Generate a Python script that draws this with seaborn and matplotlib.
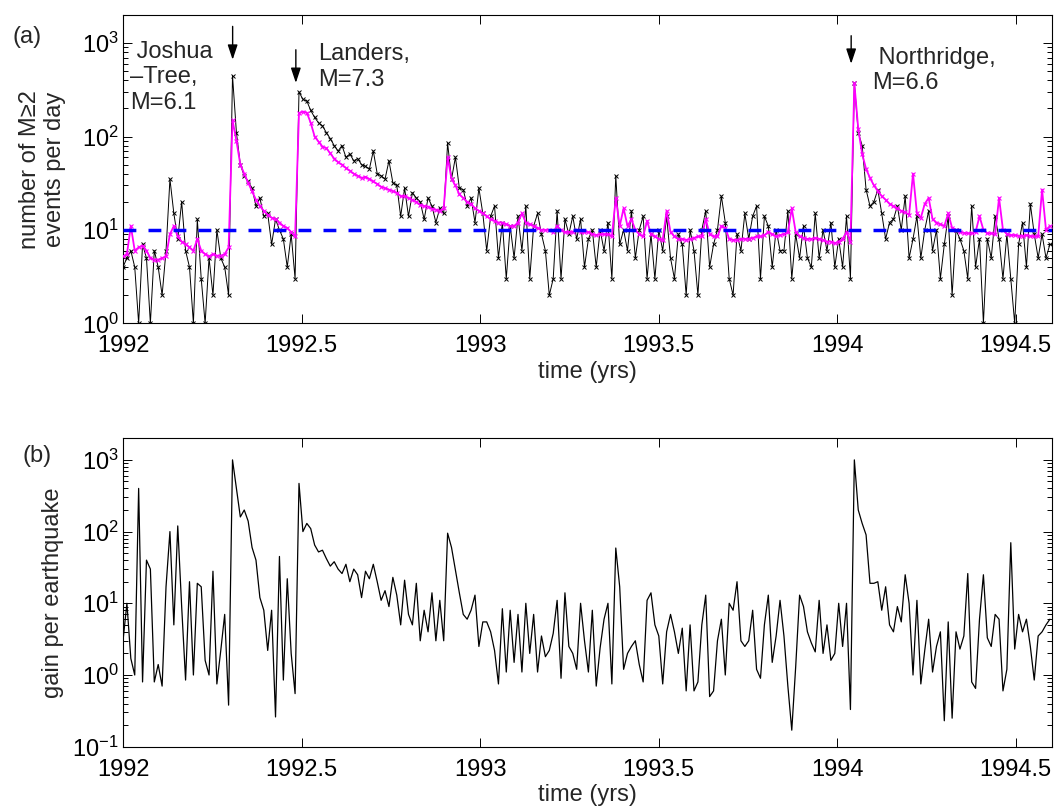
import numpy as np
import pandas as pd
import matplotlib
matplotlib.use("Agg")
import matplotlib.pyplot as plt
import seaborn as sns
from matplotlib.ticker import FixedLocator, FuncFormatter, LogLocator, LogFormatterSciNotation, NullFormatter

# ---------------- data ----------------
START_YEAR = 1992
DAY_STEP = 4  # one sample every 4 days

observed_counts = [
    4, 5, 6, 4, 1, 7, 5, 1, 6, 4, 2, 6, 35, 15, 8, 20, 6, 4, 1, 13, 3, 1, 5, 2, 10, 5, 4, 2,
    450, 110, 50, 38, 33, 28, 18, 22, 14, 15, 7, 13, 10, 8, 4, 9, 3,
    300, 250, 240, 190, 160, 140, 130, 110, 95, 80, 70, 80, 60, 65, 55, 58, 50, 48, 45, 70,
    40, 38, 35, 55, 32, 30, 14, 28, 14, 25, 22, 20, 13, 22, 18,
    12, 17, 15, 85, 35, 60, 28, 27, 18, 22, 12, 28, 15, 6, 14, 18, 5, 12, 3, 11,
    5, 14, 6, 18, 3, 11, 15, 9, 6, 2, 3, 16, 3, 13, 9, 14, 8, 13, 4, 8,
    10, 4, 10, 6, 12, 3, 38, 7, 10, 6, 16, 5, 10, 14, 3, 9, 3, 10, 6, 14,
    5, 3, 9, 7, 2, 10, 6, 2, 10, 16, 4, 7, 10, 23, 12, 3, 2, 9, 6, 15,
    8, 14, 18, 3, 14, 11, 4, 10, 6, 6, 16, 3, 9, 5, 11, 5, 4, 15, 5, 10, 6, 12, 4, 8, 4, 14, 3,
    370,
    110, 80, 27, 18, 20, 27, 15, 8, 12, 13, 18, 10,
    23, 5, 8, 14, 5, 10, 16, 6, 10, 3, 7, 14, 2, 10, 8, 6, 3, 18, 4, 8,
    1, 8, 5, 14, 8, 3, 9, 3, 1, 7, 12, 4, 19, 9, 5, 9, 5, 7,
]

forecast_rate = [
    5.2, 5.5, 11, 6, 6.5, 6.8, 6, 5, 4.8, 4.8, 5, 5.2, 9, 11, 8.5, 7.5, 7, 6.5, 6, 8,
    6, 5.5, 5.2, 5.5, 5.3, 5.3, 5.5, 6.5,
    150, 90, 50, 40, 32, 26, 21, 18, 16, 14.5, 13.5, 13, 12, 11, 10.5, 9.5, 8.5,
    178, 185, 180, 140, 100, 88, 78, 75, 66, 58, 53, 50, 46, 43, 40, 38, 36, 37, 35, 33,
    31, 29, 28, 27, 26, 25, 23, 23, 22, 21, 20, 18.5, 18, 17.8, 16.8,
    16.5, 16, 17, 60, 35, 30, 24, 22, 20, 19, 17, 16, 15, 14, 13, 12.5, 12, 12, 11.5, 11,
    11, 12, 15, 12, 11.5, 11, 10.5, 10, 10, 10, 9.5, 11, 10, 9.5, 9.5, 9.5, 10, 9.5, 9.5, 9.5,
    9, 8.8, 9, 9, 9, 8.5, 22, 11, 17, 11, 13, 10, 9, 8.5, 12.5, 9, 8.5, 8, 7.8, 16,
    9.5, 8.5, 8, 8, 7.8, 8, 8.2, 8.5, 8.5, 13, 9, 8.5, 8.5, 11, 10.5, 8, 7.8, 7.8, 8, 8,
    8, 8.2, 8.5, 8.5, 8.8, 9.5, 9, 8.5, 8.8, 9, 9.5, 17, 9.5, 8.5, 8.2, 8, 8, 8.2, 8, 7.8,
    7.5, 7.5, 7.2, 7.5, 8, 9.5, 7.5,
    370,
    120, 65, 45, 36, 30, 26, 23, 21, 19, 18, 17, 16,
    15.5, 14.5, 40, 15, 13.5, 19, 22, 13, 12, 11.5, 11, 15, 10.5, 10, 9.5, 9.3, 9.2, 9.2, 9.5, 14,
    10, 9.2, 9.2, 9, 22, 10, 9, 8.8, 8.8, 8.6, 8.6, 8.8, 8.6, 8.5, 8.5, 27, 10, 11,
]

gain = [
    3, 10, 1.7, 1, 400, 0.8, 40, 30, 0.8, 1.4, 0.7, 17, 100, 5, 120, 9, 0.85, 20, 1, 19,
    17, 1.6, 1, 28, 0.75, 2.2, 7, 0.38,
    1000, 400, 160, 200, 140, 60, 40, 12, 8, 2.2, 8, 0.26, 45, 0.85, 22, 2, 0.55,
    470, 100, 130, 110, 65, 52, 55, 42, 33, 38, 30, 26, 35, 20, 30, 25, 12, 28, 22, 35,
    20, 11, 15, 9, 23, 13, 5, 21, 7, 5, 19, 3, 8, 4, 14,
    3, 11, 3, 95, 60, 29, 14, 7, 6, 8, 13, 2.5, 5.5, 5.5, 4, 2.2, 0.75, 8.4, 1.1, 8,
    1.5, 7, 1.1, 10, 2, 7, 1.1, 3.5, 1.8, 2.2, 3.8, 11, 0.9, 14, 2.5, 2, 1.2, 10, 3, 1.1,
    8, 0.7, 2.4, 6, 10, 0.75, 59, 17, 1.2, 2, 2.5, 3, 1.4, 0.8, 11, 14, 5, 3.5, 0.75, 4,
    7, 4, 2, 4.5, 0.6, 5, 0.6, 0.8, 5, 13, 0.5, 0.6, 3, 6, 1, 10, 8, 20, 3, 2.5,
    3, 8, 1.2, 0.9, 5, 13, 1.5, 3.5, 11, 3.5, 0.7, 0.17, 1.3, 13, 9, 4, 2.8, 2.1, 11, 2,
    5, 1.6, 2, 10, 2.5, 10, 0.33,
    1000,
    200, 130, 90, 19, 19, 20, 8, 17, 5, 4, 9, 5.5,
    25, 10, 1, 11, 0.75, 2.2, 6, 1.1, 2.5, 4, 0.23, 5.5, 0.25, 4, 2.3, 3.5, 26, 0.8, 0.65, 6,
    25, 3.3, 2.5, 7, 6, 0.6, 1.2, 70, 2.3, 7, 4, 6, 2.5, 0.85, 3.5, 4, 5, 6,
]

background_rate = 10
xtick_values = [1992, 1992.5, 1993, 1993.5, 1994, 1994.5]
xtick_labels = ["1992", "1992.5", "1993", "1993.5", "1994", "1994.5"]
event_labels = [" Joshua\n\u2013Tree,\nM=6.1", "Landers,\nM=7.3", " Northridge,\nM=6.6"]
event_years = [1992.307, 1992.484, 1994.039]

# ---------------- build frame ----------------
n = len(observed_counts)
years = START_YEAR + np.arange(n) * DAY_STEP / 365.25
df = pd.DataFrame({"year": years, "observed": observed_counts,
                   "forecast": forecast_rate, "gain": gain})

# ---------------- style ----------------
sns.set_style("ticks", {"xtick.direction": "in", "ytick.direction": "in"})
plt.rcParams["font.family"] = ["Liberation Sans", "DejaVu Sans"]
plt.rcParams["mathtext.fontset"] = "custom"
plt.rcParams["mathtext.rm"] = "Liberation Sans"
plt.rcParams["mathtext.it"] = "Liberation Sans:italic"
plt.rcParams["mathtext.bf"] = "Liberation Sans:bold"
plt.rcParams["mathtext.default"] = "regular"
FS = 17

fig = plt.figure(figsize=(10.55, 8.07), dpi=100)
ax1 = fig.add_axes([0.11659, 0.59938, 0.8801, 0.38203])
ax2 = fig.add_axes([0.11659, 0.07472, 0.8801, 0.38216])

# panel (a)
sns.lineplot(data=df, x="year", y="observed", ax=ax1, color="black", linewidth=0.7,
             marker="x", markersize=3.5, markeredgecolor="black", markeredgewidth=0.7,
             zorder=2)
sns.lineplot(data=df, x="year", y="forecast", ax=ax1, color="#ff00ff", linewidth=1.3,
             marker="x", markersize=3, markeredgecolor="#ff00ff", markeredgewidth=0.8,
             zorder=3)
ax1.axhline(background_rate, color="#0000ff", linewidth=2.5, linestyle=(0, (3.7, 3.5)), zorder=4)

# panel (b)
sns.lineplot(data=df, x="year", y="gain", ax=ax2, color="black", linewidth=0.9)

for ax, ylo in ((ax1, 1), (ax2, 0.1)):
    ax.set_yscale("log")
    ax.set_xlim(1992, 1994.6)
    ax.set_ylim(ylo, 2000)
    ax.xaxis.set_major_locator(FixedLocator(xtick_values))
    ax.xaxis.set_major_formatter(FuncFormatter(lambda v, p: xtick_labels[xtick_values.index(round(v, 1))] if round(v, 1) in xtick_values else ""))
    ax.yaxis.set_major_locator(LogLocator(base=10, numticks=10))
    ax.yaxis.set_minor_locator(LogLocator(base=10, subs=np.arange(2, 10), numticks=20))
    ax.yaxis.set_major_formatter(LogFormatterSciNotation())
    ax.yaxis.set_minor_formatter(NullFormatter())
    ax.tick_params(axis="both", which="both", direction="in", top=True, right=True,
                   labelsize=FS, width=0.7, colors="black")
    ax.tick_params(axis="x", which="major", length=6.5, pad=8.5)
    ax.tick_params(axis="y", which="major", length=6.5, pad=3)
    ax.tick_params(axis="y", which="minor", length=3.5)
    for s in ax.spines.values():
        s.set_linewidth(0.8)
        s.set_color("black")
    ax.set_xlabel("time (yrs)", fontsize=FS)
    ax.xaxis.set_label_coords(0.5, -0.121)

ax1.set_ylabel("number of M\u22652\nevents per day", fontsize=FS, linespacing=1.2)
ax1.yaxis.set_label_coords(-0.0614, 0.5)
ax2.set_ylabel("gain per earthquake", fontsize=FS)
ax2.yaxis.set_label_coords(-0.0635, 0.5)

# event annotations
text_pos = [(0.0075, 0.9157), (0.210, 0.908), (0.8067, 0.897)]
arrow_ys = [(1510, 664), (849, 375), (1200, 601)]
for lab, yr, (tx, ty), (y0, y1) in zip(event_labels, event_years, text_pos, arrow_ys):
    ax1.text(tx, ty, lab, transform=ax1.transAxes, ha="left", va="top", fontsize=FS,
             linespacing=1.2)
    ax1.annotate("", xy=(yr, y1), xytext=(yr, y0),
                 arrowprops=dict(arrowstyle="-|>,head_length=0.9,head_width=0.3",
                                 color="black", lw=1, mutation_scale=10,
                                 shrinkA=0, shrinkB=0))

fig.text(0.0114, 0.9542, "(a)", fontsize=FS, ha="left", va="center")
fig.text(0.0209, 0.4349, "(b)", fontsize=FS, ha="left", va="center")

fig.savefig("out.png", dpi=100, facecolor="white")
